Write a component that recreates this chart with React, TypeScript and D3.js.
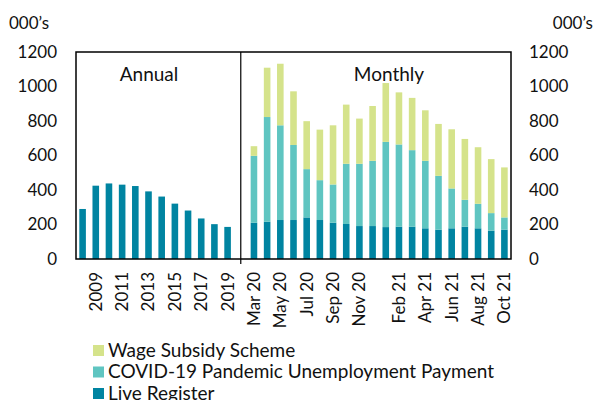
import React from "react";
import * as d3 from "d3";

const years = ["2008", "2009", "2010", "2011", "2012", "2013", "2014", "2015", "2016", "2017", "2018", "2019"];
const annualLR = [290, 425, 438, 431, 423, 392, 362, 321, 281, 235, 202, 186];

const months = [
  "Mar 20", "Apr 20", "May 20", "Jun 20", "Jul 20", "Aug 20", "Sep 20", "Oct 20", "Nov 20", "Dec 20",
  "Jan 21", "Feb 21", "Mar 21", "Apr 21", "May 21", "Jun 21", "Jul 21", "Aug 21", "Sep 21", "Oct 21",
];
const monthlyLR = [210, 216, 226, 226, 241, 226, 210, 203, 191, 191, 185, 187, 187, 178, 170, 178, 187, 178, 164, 170];
const monthlyPUP = [388, 607, 549, 435, 280, 231, 222, 349, 361, 378, 494, 477, 444, 391, 312, 231, 156, 142, 102, 71];
const monthlyWSS = [56, 286, 357, 311, 278, 293, 343, 343, 262, 318, 341, 302, 303, 293, 301, 343, 353, 328, 313, 290];

const shownLabels = ["2009", "2011", "2013", "2015", "2017", "2019", "Mar 20", "May 20", "Jul 20", "Sep 20", "Nov 20", "Feb 21", "Apr 21", "Jun 21", "Aug 21", "Oct 21"];
const yTicks = [0, 200, 400, 600, 800, 1000, 1200];

const legendItems = [
  { name: "Wage Subsidy Scheme", color: "#d5e38b" },
  { name: "COVID-19 Pandemic Unemployment Payment", color: "#5fc5c1" },
  { name: "Live Register", color: "#0084a1" },
];

const W = 596, H = 400;
const plot = { left: 76, right: 511, top: 52, bottom: 259 };
const font = "Lato, 'Open Sans', sans-serif";

export default function App() {
  const cats = [...years, "gap", ...months];
  const x = d3.scaleBand<string>().domain(cats).range([plot.left, plot.right]).paddingInner(0.5).paddingOuter(0.25);
  const y = d3.scaleLinear().domain([0, 1200]).range([plot.bottom, plot.top]);
  const bw = x.bandwidth();
  const divX = (x("gap") as number) + bw / 2;

  const stacked = d3.stack<any>().keys(["lr", "pup", "wss"])(
    months.map((m, i) => ({ m, lr: monthlyLR[i], pup: monthlyPUP[i], wss: monthlyWSS[i] }))
  );
  const stackColors = [legendItems[2].color, legendItems[1].color, legendItems[0].color];

  return (
    <svg width={W} height={H} style={{ position: "absolute", left: 0, top: 0 }} fontFamily={font}>
      <rect width={W} height={H} fill="#fff" />
      {years.map((yr, i) => (
        <rect key={yr} x={x(yr)} y={y(annualLR[i])} width={bw} height={y(0) - y(annualLR[i])} fill={legendItems[2].color} />
      ))}
      {stacked.map((layer, li) =>
        layer.map((d, i) => (
          <rect key={li + "-" + i} x={x(months[i])} y={y(d[1])} width={bw} height={y(d[0]) - y(d[1])} fill={stackColors[li]} />
        ))
      )}
      <rect x={plot.left} y={plot.top} width={plot.right - plot.left} height={plot.bottom - plot.top} fill="none" stroke="#000" strokeWidth={1.5} />
      <line x1={divX} x2={divX} y1={plot.top} y2={plot.bottom + 5} stroke="#000" strokeWidth={1.2} />
      <text x={149} y={74} dy="0.35em" textAnchor="middle" fontSize={19} fill="#111">Annual</text>
      <text x={389} y={74} dy="0.35em" textAnchor="middle" fontSize={19} fill="#111">Monthly</text>
      {yTicks.map((t) => (
        <g key={t}>
          <text x={57} y={y(t)} dy="0.35em" textAnchor="end" fontSize={17} fill="#111">{t}</text>
          <text x={529} y={y(t)} dy="0.35em" textAnchor="start" fontSize={17} fill="#111">{t}</text>
        </g>
      ))}
      <text x={9} y={29} fontSize={17} fill="#111">000’s</text>
      <text x={593} y={29} textAnchor="end" fontSize={17} fill="#111">000’s</text>
      {shownLabels.map((l) => {
        const cx = (x(l) as number) + bw / 2;
        return (
          <text key={l} transform={`translate(${cx},272) rotate(-90)`} dy="0.35em" textAnchor="end" fontSize={17} fill="#111">{l}</text>
        );
      })}
      {legendItems.map((it, i) => (
        <g key={it.name} transform={`translate(93,${350 + i * 21.5})`}>
          <rect x={0} y={-5} width={11} height={11} fill={it.color} />
          <text x={15} y={0} dy="0.35em" fontSize={19} fill="#111">{it.name}</text>
        </g>
      ))}
    </svg>
  );
}
